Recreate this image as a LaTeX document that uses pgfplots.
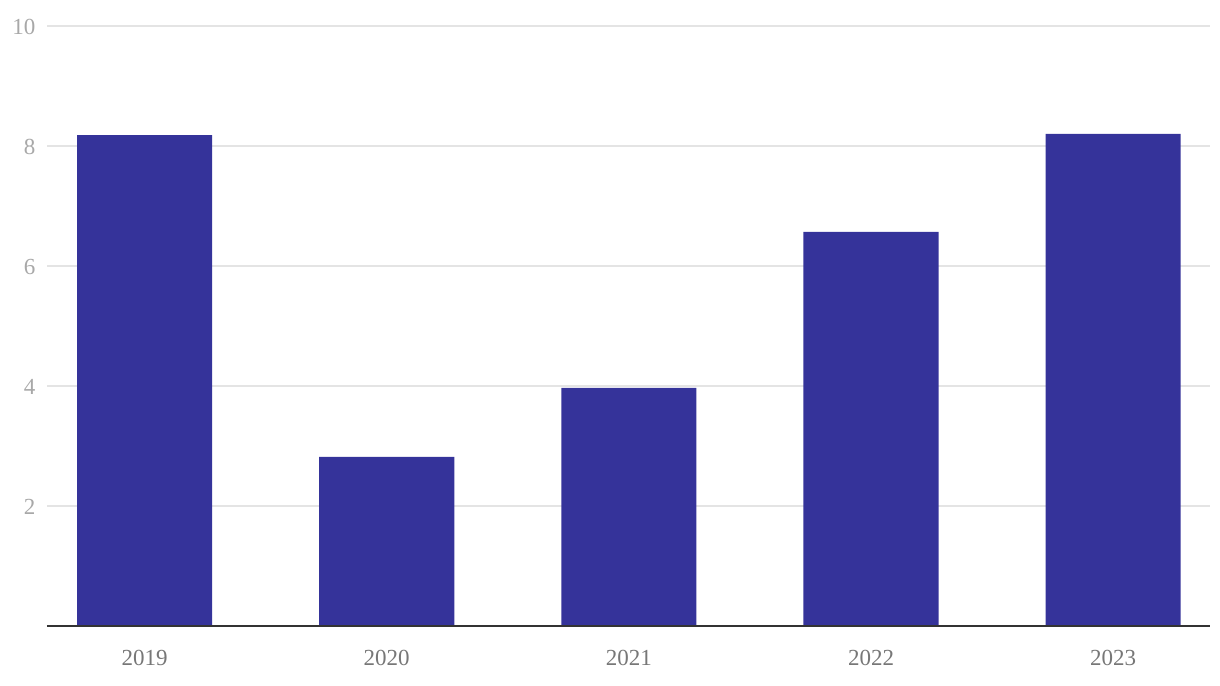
\documentclass[border=0pt]{standalone}
\usepackage{fontspec}
\setmainfont{Liberation Serif}
\usepackage{pgfplots}
\pgfplotsset{compat=1.18}
\definecolor{barc}{HTML}{35339A}
\definecolor{gridc}{HTML}{E4E4E4}
\definecolor{ylab}{HTML}{A8A8A8}
\definecolor{xlab}{HTML}{777777}
\definecolor{basec}{HTML}{333333}
\begin{document}
\begin{tikzpicture}
\begin{axis}[
  name=ax,
  scale only axis,
  width=1163pt, height=600pt,
  xmin=-0.403, xmax=4.40,
  ymin=0, ymax=10,
  ytick={2,4,6,8,10},
  xtick={0,1,2,3,4},
  xticklabels={2019,2020,2021,2022,2023},
  axis line style={draw=none},
  axis x line*=bottom,
  axis y line*=left,
  major tick length=0pt,
  ymajorgrids, grid style={gridc, line width=1.2pt},
  /pgf/number format/assume math mode=true,
  yticklabel style={font=\fontsize{23}{26}\selectfont, text=ylab, xshift=-8pt, yshift=-1pt},
  xticklabel style={font=\fontsize{23}{26}\selectfont, text=xlab, yshift=-21pt},
  ybar, bar width=0.558, bar shift=0pt,
  clip=false,
]
\addplot[fill=barc, draw=none] coordinates {(0,8.18) (1,2.82) (2,3.97) (3,6.57) (4,8.2)};
\draw[basec, line width=1.5pt] (axis cs:-0.403,0) -- (axis cs:4.40,0);
\end{axis}
\path[use as bounding box] ([shift={(-47pt,-60pt)}]ax.south west) rectangle ([shift={(10pt,26pt)}]ax.north east);
\end{tikzpicture}
\end{document}
